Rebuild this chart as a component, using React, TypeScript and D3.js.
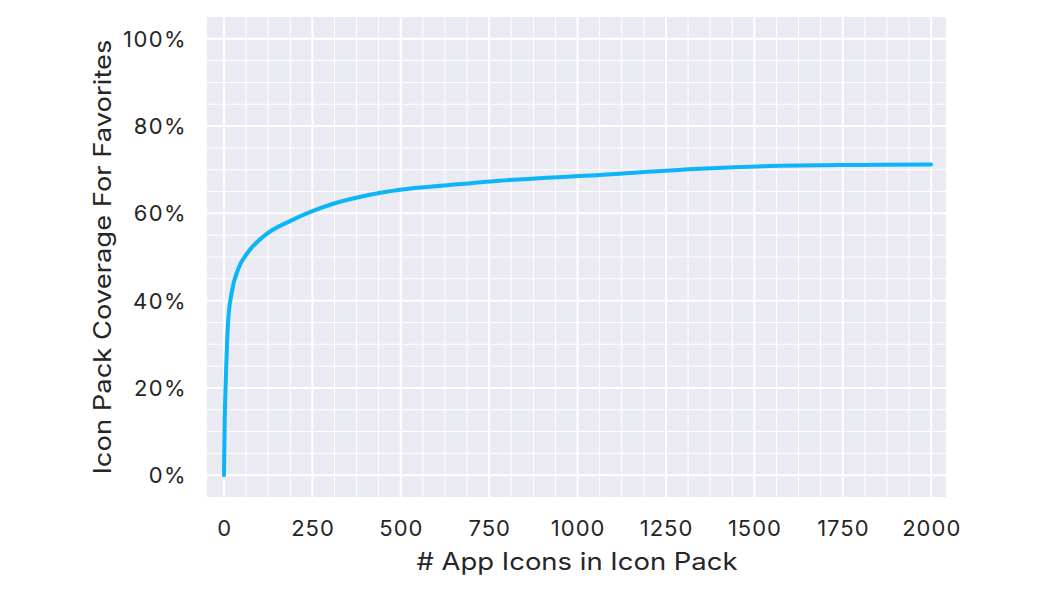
import React from "react";
import * as d3 from "d3";

const iconCounts = [0, 2, 6, 12, 23, 40, 69, 116, 191, 250, 309, 403, 498, 639, 780, 1063, 1346, 1572, 1800, 2000];
const coverage = [0, 0.12, 0.24, 0.355, 0.423, 0.472, 0.512, 0.55, 0.584, 0.605, 0.622, 0.641, 0.654, 0.665, 0.675, 0.688, 0.702, 0.709, 0.711, 0.712];
const xTicks = [0, 250, 500, 750, 1000, 1250, 1500, 1750, 2000];
const yTicks = [0, 0.2, 0.4, 0.6, 0.8, 1.0];

const W = 1050, H = 591;
const L = 207, R = 946, T = 17, B = 497;
const FONT = "Inter, 'Open Sans', sans-serif";

export default function App() {
  const x = d3.scaleLinear().domain([-48, 2042]).range([L, R]);
  const y = d3.scaleLinear().domain([-0.05, 1.05]).range([B, T]);
  const xMinor = d3.range(0, 2042, 62.5);
  const yMinor = d3.range(-0.05, 1.0501, 0.05).filter((v) => v > -0.049 && v < 1.049);
  const line = d3
    .line<number>()
    .x((_, i) => x(iconCounts[i]))
    .y((d) => y(d))
    .curve(d3.curveMonotoneX);
  return (
    <svg width={W} height={H} style={{ position: "absolute", left: 0, top: 0 }}>
      <rect x={0} y={0} width={W} height={H} fill="#ffffff" />
      <rect x={L} y={T} width={R - L} height={B - T} fill="#eaeaf2" />
      {xMinor.map((v) => (
        <line key={"xm" + v} x1={x(v)} x2={x(v)} y1={T} y2={B} stroke="#ffffff" strokeWidth={1} />
      ))}
      {yMinor.map((v) => (
        <line key={"ym" + v} x1={L} x2={R} y1={y(v)} y2={y(v)} stroke="#ffffff" strokeWidth={1} />
      ))}
      {xTicks.map((v) => (
        <line key={"xM" + v} x1={x(v)} x2={x(v)} y1={T} y2={B} stroke="#ffffff" strokeWidth={2} />
      ))}
      {yTicks.map((v) => (
        <line key={"yM" + v} x1={L} x2={R} y1={y(v)} y2={y(v)} stroke="#ffffff" strokeWidth={2} />
      ))}
      <path d={line(coverage) || ""} fill="none" stroke="#0bb5f7" strokeWidth={4} strokeLinecap="round" strokeLinejoin="round" />
      {xTicks.map((v) => (
        <text key={"xl" + v} x={x(v) + 0.6} y={536} textAnchor="middle" fontFamily={FONT} fontSize={22} letterSpacing={1} fill="#262626">
          {v}
        </text>
      ))}
      {yTicks.map((v) => (
        <text key={"yl" + v} x={187} y={y(v) + 8} textAnchor="end" fontFamily={FONT} fontSize={22} letterSpacing={1.4} fill="#262626">
          {Math.round(v * 100) + "%"}
        </text>
      ))}
      <text
        x={577}
        y={570}
        textAnchor="middle"
        fontFamily={FONT}
        fontSize={24}
        textLength={321}
        lengthAdjust="spacingAndGlyphs"
        fill="#262626"
      >
        # App Icons in Icon Pack
      </text>
      <text
        transform={`translate(111, 257) rotate(-90)`}
        textAnchor="middle"
        fontFamily={FONT}
        fontSize={24}
        textLength={435}
        lengthAdjust="spacingAndGlyphs"
        fill="#262626"
      >
        Icon Pack Coverage For Favorites
      </text>
    </svg>
  );
}
